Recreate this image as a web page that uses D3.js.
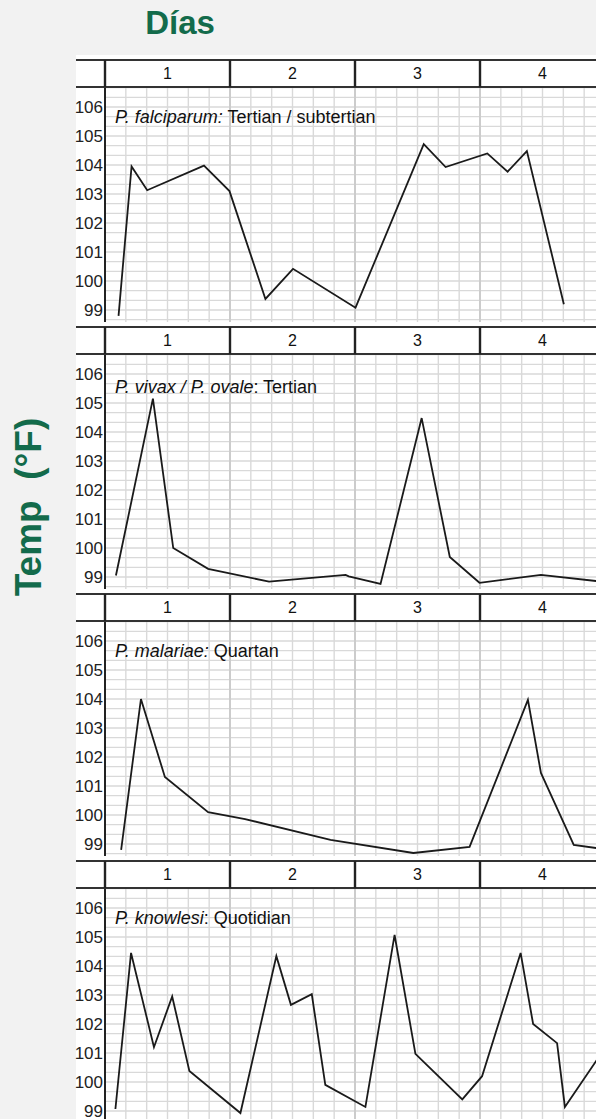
<!DOCTYPE html>
<html><head><meta charset="utf-8">
<script src="https://cdn.jsdelivr.net/npm/d3@7"></script>
<style>
html,body{margin:0;padding:0;background:#f2f2f2;}
svg{display:block;font-family:"Liberation Sans",Arial,sans-serif;}
</style></head>
<body><svg id="c" width="596" height="1119"></svg>
<script>
// ---- data ----
const dayLabels = ["1","2","3","4"];
const yTicks = [99,100,101,102,103,104,105,106];
const titleItalic = ["P. falciparum:","P. vivax / P. ovale","P. malariae:","P. knowlesi"];
const titleRest = [" Tertian / subtertian",": Tertian"," Quartan",": Quotidian"];

const falciparumHours = [2.6,5.1,8.1,19.0,23.9,30.8,36.1,48.1,61.2,65.4,73.4,77.3,81.0,88.1];
const falciparumTemps = [98.8,103.95,103.13,103.98,103.1,99.38,100.42,99.08,104.72,103.93,104.4,103.77,104.48,99.2];

const vivaxHours = [2.1,9.2,13.1,19.8,31.5,46.2,46.8,52.9,60.8,66.2,71.9,83.7,94.4];
const vivaxTemps = [99.05,105.15,100.0,99.28,98.84,99.07,99.02,98.76,104.48,99.69,98.8,99.07,98.86];

const malariaeHours = [3.1,6.9,11.5,19.8,26.9,43.3,59.2,70.0,81.2,83.7,90.0,94.4];
const malariaeTemps = [98.8,104.0,101.31,100.1,99.86,99.14,98.69,98.9,103.97,101.45,98.97,98.86];

const knowlesiHours = [2.0,5.0,9.4,12.9,16.2,26.0,32.9,35.7,39.7,42.3,50.0,55.6,59.6,68.6,72.4,79.8,82.2,86.8,88.3,94.4];
const knowlesiTemps = [99.07,104.45,101.2,102.95,100.38,98.93,104.34,102.66,103.03,99.9,99.14,105.07,100.97,99.4,100.2,104.45,102.0,101.34,99.14,100.75];

const panels = [
  {hours: falciparumHours, temps: falciparumTemps},
  {hours: vivaxHours, temps: vivaxTemps},
  {hours: malariaeHours, temps: malariaeTemps},
  {hours: knowlesiHours, temps: knowlesiTemps}
];

// ---- layout ----
const svg = d3.select("#c");
const W = 596, H = 1119;
const left = 76, axisX = 105, firstTop = 60, pitch = 267, headH = 27, plotBottomOff = 262;
const green = "#136b4b";

svg.append("rect").attr("x",left).attr("y",55).attr("width",W-left).attr("height",H-55).attr("fill","#fff");

svg.append("text").attr("x",180).attr("y",34).attr("text-anchor","middle")
  .attr("font-size",33).attr("font-weight","bold").attr("fill",green).text("Días");
svg.append("text").attr("transform","translate(41,507) rotate(-90)").attr("text-anchor","middle")
  .attr("font-size",37).attr("font-weight","bold").attr("fill",green)
  .style("white-space","pre").text("Temp  (°F)");

const x = d3.scaleLinear().domain([0,96]).range([axisX, axisX+500]);

svg.append("defs").append("clipPath").attr("id","clipAll")
  .append("rect").attr("x",axisX).attr("y",0).attr("width",W-axisX).attr("height",H);

panels.forEach((p,i)=>{
  const top = firstTop + i*pitch;
  const plotTop = top+headH, plotBot = Math.min(top+plotBottomOff, H);
  const y = d3.scaleLinear().domain([99,106]).range([top+250, top+47]);
  const g = svg.append("g");

  // grid
  const grid = g.append("g").attr("clip-path","url(#clipAll)");
  const hVals = d3.range(0,25).map(k=>98+2/3+k/3);
  grid.selectAll("line.h").data(hVals).join("line")
    .attr("x1",axisX).attr("x2",W).attr("y1",d=>y(d)).attr("y2",d=>y(d))
    .attr("stroke","#d9d9d9").attr("stroke-width",1.4);
  const vVals = d3.range(4,96,4);
  grid.selectAll("line.v").data(vVals).join("line")
    .attr("x1",d=>x(d)).attr("x2",d=>x(d)).attr("y1",plotTop).attr("y2",plotBot)
    .attr("stroke",d=>d%24===0?"#cccccc":"#d9d9d9").attr("stroke-width",d=>d%24===0?2:1.4);

  // y axis
  const yAxis = d3.axisLeft(y).tickValues(yTicks).tickSize(0).tickPadding(2).tickFormat(d3.format("d"));
  const ya = g.append("g").attr("transform",`translate(${axisX},0)`).call(yAxis);
  ya.select(".domain").remove();
  ya.selectAll("text").attr("font-size",17).attr("fill","#222")
    .attr("font-family","'Liberation Sans',Arial,sans-serif");
  g.append("line").attr("x1",axisX).attr("x2",axisX).attr("y1",plotTop).attr("y2",plotBot)
    .attr("stroke","#222").attr("stroke-width",2);

  // header
  g.append("line").attr("x1",left).attr("x2",W).attr("y1",top).attr("y2",top).attr("stroke","#333").attr("stroke-width",1.8);
  g.append("line").attr("x1",left).attr("x2",W).attr("y1",top+headH).attr("y2",top+headH).attr("stroke","#333").attr("stroke-width",1.8);
  g.selectAll("line.div").data([0,24,48,72]).join("line")
    .attr("x1",d=>x(d)).attr("x2",d=>x(d)).attr("y1",top).attr("y2",top+headH)
    .attr("stroke","#222").attr("stroke-width",2.4);
  g.selectAll("text.day").data(dayLabels).join("text")
    .attr("x",(d,k)=>x(k*24+12)).attr("y",top+19).attr("text-anchor","middle")
    .attr("font-size",16).attr("fill","#111").text(d=>d);

  // title
  const t = g.append("text").attr("x",115).attr("y",top+(i===1?66:63)).attr("font-size",18).attr("fill","#111");
  t.append("tspan").attr("font-style","italic").text(titleItalic[i]);
  t.append("tspan").style("white-space","pre").text(titleRest[i]);

  // line
  const pts = p.hours.map((h,k)=>[h,p.temps[k]]);
  const line = d3.line().x(d=>x(d[0])).y(d=>y(d[1]));
  g.append("path").datum(pts).attr("d",line).attr("fill","none")
    .attr("stroke","#1a1a1a").attr("stroke-width",1.8).attr("stroke-linejoin","miter")
    .attr("clip-path","url(#clipAll)");
});
</script></body></html>
